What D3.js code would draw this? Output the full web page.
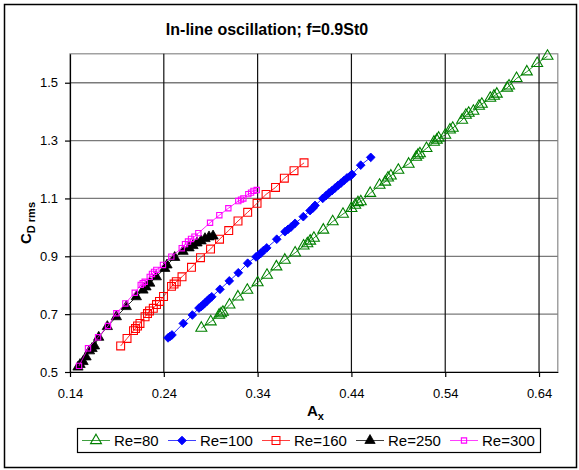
<!DOCTYPE html>
<html>
<head>
<meta charset="utf-8">
<script src="https://cdn.jsdelivr.net/npm/d3@7"></script>
<style>
  html, body { margin: 0; padding: 0; background: #fff; }
  svg { display: block; font-family: "Liberation Sans", Arial, sans-serif; }
</style>
</head>
<body>
<svg id="chart" width="579" height="470"></svg>
<script>
// Amplitude A_x and rms drag coefficient for each Reynolds number
const re80A = [0.280,0.290,0.299,0.301,0.303,0.310,0.319,0.329,0.340,0.350,0.360,0.369,0.380,0.389,0.393,0.396,0.400,0.410,0.420,0.431,0.440,0.444,0.447,0.450,0.460,0.470,0.476,0.479,0.482,0.490,0.501,0.509,0.511,0.513,0.520,0.528,0.531,0.533,0.540,0.545,0.548,0.558,0.562,0.565,0.570,0.576,0.579,0.588,0.592,0.595,0.606,0.608,0.616,0.627,0.638,0.649];
const re80C = [0.652,0.674,0.697,0.702,0.707,0.732,0.760,0.783,0.809,0.835,0.864,0.887,0.912,0.936,0.944,0.953,0.963,0.991,1.020,1.046,1.066,1.077,1.086,1.089,1.118,1.146,1.157,1.171,1.178,1.198,1.219,1.243,1.250,1.255,1.273,1.295,1.302,1.309,1.319,1.337,1.343,1.371,1.388,1.395,1.402,1.419,1.426,1.447,1.454,1.461,1.482,1.489,1.515,1.538,1.567,1.592];

const re100A = [0.2445,0.2466,0.2487,0.2608,0.2704,0.2775,0.2797,0.2818,0.2839,0.2861,0.2887,0.2911,0.2999,0.3098,0.3194,0.3294,0.3383,0.3410,0.3436,0.3463,0.3497,0.3604,0.3692,0.3724,0.3756,0.3799,0.3887,0.3959,0.3991,0.4012,0.4094,0.4130,0.4161,0.4193,0.4225,0.4257,0.4289,0.4321,0.4353,0.4385,0.4406,0.4499,0.4606];
const re100C = [0.618,0.623,0.628,0.668,0.697,0.721,0.726,0.732,0.739,0.745,0.754,0.760,0.786,0.815,0.843,0.876,0.898,0.904,0.911,0.920,0.929,0.959,0.985,0.993,1.001,1.014,1.037,1.058,1.067,1.076,1.100,1.110,1.119,1.127,1.136,1.145,1.153,1.162,1.171,1.177,1.183,1.215,1.242];

const re160A = [0.194,0.2008,0.2077,0.2098,0.2120,0.2146,0.2200,0.2226,0.2248,0.2288,0.2322,0.2354,0.2397,0.2482,0.2509,0.2533,0.2594,0.2695,0.2791,0.2898,0.2994,0.3092,0.3191,0.3294,0.3394,0.3490,0.3591,0.3685,0.3788,0.3895];
const re160C = [0.590,0.616,0.643,0.650,0.659,0.668,0.691,0.702,0.711,0.720,0.733,0.744,0.761,0.796,0.804,0.812,0.829,0.862,0.895,0.925,0.959,0.989,1.022,1.052,1.083,1.114,1.138,1.170,1.196,1.223];

const re250A = [0.1485,0.1507,0.1539,0.1571,0.1608,0.1635,0.1661,0.1706,0.1798,0.1894,0.2000,0.2107,0.2178,0.2210,0.2250,0.2320,0.2410,0.2434,0.2516,0.2605,0.2669,0.2711,0.2754,0.2797,0.2839,0.2882,0.2925];
const re250C = [0.517,0.526,0.536,0.552,0.573,0.581,0.590,0.620,0.657,0.691,0.726,0.760,0.783,0.794,0.807,0.829,0.858,0.870,0.896,0.917,0.929,0.937,0.946,0.953,0.961,0.967,0.970];

const re300A = [0.1496,0.1592,0.1699,0.1805,0.1894,0.1990,0.2090,0.2154,0.2175,0.2196,0.2250,0.2274,0.2296,0.2320,0.2391,0.2480,0.2591,0.2626,0.2658,0.2690,0.2727,0.2768,0.2893,0.2992,0.3088,0.3194,0.3223,0.3248,0.3301,0.3330,0.3356,0.3390];
const re300C = [0.521,0.582,0.620,0.659,0.703,0.737,0.774,0.801,0.807,0.812,0.829,0.839,0.846,0.853,0.870,0.899,0.928,0.942,0.951,0.960,0.968,0.980,1.016,1.042,1.066,1.091,1.096,1.100,1.115,1.120,1.126,1.129];

const seriesNames = ["Re=80", "Re=100", "Re=160", "Re=250", "Re=300"];
const xTicks = [0.14, 0.24, 0.34, 0.44, 0.54, 0.64];
const yTicks = [0.5, 0.7, 0.9, 1.1, 1.3, 1.5];
const chartTitle = "In-line oscillation; f=0.9St0";

const series = [
  { name: seriesNames[0], A: re80A,  C: re80C,  color: "#008000", shape: "triangle", filled: false, size: 52 },
  { name: seriesNames[1], A: re100A, C: re100C, color: "#0000ff", shape: "diamond",  filled: true,  size: 38 },
  { name: seriesNames[2], A: re160A, C: re160C, color: "#ff0000", shape: "square",   filled: false, size: 62 },
  { name: seriesNames[3], A: re250A, C: re250C, color: "#000000", shape: "triangle", filled: true,  size: 46 },
  { name: seriesNames[4], A: re300A, C: re300C, color: "#ff00ff", shape: "square",   filled: false, size: 28 }
];

const svg = d3.select("#chart");
const plot = { left: 70, right: 557.8, top: 53.8, bottom: 372 };

const x = d3.scaleLinear().domain([0.14, 0.66]).range([plot.left, plot.right]);
const y = d3.scaleLinear().domain([0.5, 1.6]).range([plot.bottom, plot.top]);

// outer chart frame
svg.append("rect")
  .attr("x", 4.5).attr("y", 4.5).attr("width", 572).attr("height", 463)
  .attr("fill", "#fff").attr("stroke", "#000").attr("stroke-width", 1.5);

// title
svg.append("text")
  .attr("x", 267).attr("y", 35)
  .attr("text-anchor", "middle")
  .attr("font-size", 16).attr("font-weight", "bold")
  .text(chartTitle);

// plot frame
svg.append("rect")
  .attr("x", plot.left).attr("y", plot.top)
  .attr("width", plot.right - plot.left).attr("height", plot.bottom - plot.top)
  .attr("fill", "#fff").attr("stroke", "#8a8a8a").attr("stroke-width", 1.2);

// gridlines
svg.append("g").selectAll("line").data(yTicks.slice(1)).join("line")
  .attr("x1", plot.left).attr("x2", plot.right)
  .attr("y1", d => y(d)).attr("y2", d => y(d))
  .attr("stroke", "#7a7a7a").attr("stroke-width", 1.3);
svg.append("g").selectAll("line").data(xTicks.slice(1)).join("line")
  .attr("x1", d => x(d)).attr("x2", d => x(d))
  .attr("y1", plot.top).attr("y2", plot.bottom)
  .attr("stroke", "#111").attr("stroke-width", 1.2);

// axes
const xAxis = svg.append("g")
  .attr("transform", `translate(0,${plot.bottom})`)
  .call(d3.axisBottom(x).tickValues(xTicks).tickFormat(d3.format(".2f")).tickSizeInner(5).tickSizeOuter(0).tickPadding(12));
const yAxis = svg.append("g")
  .attr("transform", `translate(${plot.left},0)`)
  .call(d3.axisLeft(y).tickValues(yTicks).tickFormat(d3.format(".1f")).tickSizeInner(5).tickSizeOuter(0).tickPadding(7));
[xAxis, yAxis].forEach(g => {
  g.select(".domain").attr("stroke", "#000").attr("stroke-width", 1.2);
  g.selectAll(".tick line").attr("stroke", "#000").attr("stroke-width", 1.2);
  g.selectAll(".tick text").attr("font-size", 13).attr("fill", "#000")
    .attr("font-family", "Liberation Sans, Arial, sans-serif");
});

// axis titles
const xt = svg.append("text")
  .attr("x", 307).attr("y", 416)
  .attr("font-size", 15).attr("font-weight", "bold");
xt.append("tspan").text("A");
xt.append("tspan").attr("font-size", 11).attr("dy", 4).text("x");

const yt = svg.append("text")
  .attr("transform", "translate(31,244) rotate(-90)")
  .attr("font-size", 15).attr("font-weight", "bold");
yt.append("tspan").text("C");
yt.append("tspan").attr("font-size", 11).attr("dy", 4).text("D rms");

function symbolPath(s) {
  if (s.shape === "triangle") return d3.symbol(d3.symbolTriangle, s.size)();
  return d3.symbol(d3.symbolSquare, s.size)();
}
function drawMarker(g, s, cx, cy) {
  return g.append("path")
    .attr("d", symbolPath(s))
    .attr("transform", `translate(${cx},${cy})` + (s.shape === "diamond" ? " rotate(45)" : ""))
    .attr("fill", s.filled ? s.color : "none")
    .attr("stroke", s.color)
    .attr("stroke-width", s.filled ? 0.8 : 1.1);
}

// series lines and markers
const line = d3.line().x(d => x(d[0])).y(d => y(d[1]));
series.forEach(s => {
  const pts = s.A.map((a, i) => [a, s.C[i]]);
  const g = svg.append("g");
  g.append("path").datum(pts)
    .attr("d", line)
    .attr("fill", "none").attr("stroke", s.color).attr("stroke-width", 1).attr("opacity", 0.85);
  pts.forEach(p => drawMarker(g, s, x(p[0]), y(p[1])));
});

// legend
const legend = svg.append("g");
legend.append("rect")
  .attr("x", 77.5).attr("y", 428.5).attr("width", 463).attr("height", 24)
  .attr("fill", "#fff").attr("stroke", "#000").attr("stroke-width", 1.2);
const legendX = [82, 168, 262, 356, 450];
series.forEach((s, i) => {
  const lx = legendX[i];
  const ly = 440.5;
  legend.append("line")
    .attr("x1", lx).attr("x2", lx + 28).attr("y1", ly).attr("y2", ly)
    .attr("stroke", s.color).attr("stroke-width", 1).attr("opacity", 0.75);
  drawMarker(legend, s, lx + 14, ly);
  legend.append("text")
    .attr("x", lx + 32).attr("y", ly + 5.5)
    .attr("font-size", 15)
    .text(s.name);
});
</script>
</body>
</html>
